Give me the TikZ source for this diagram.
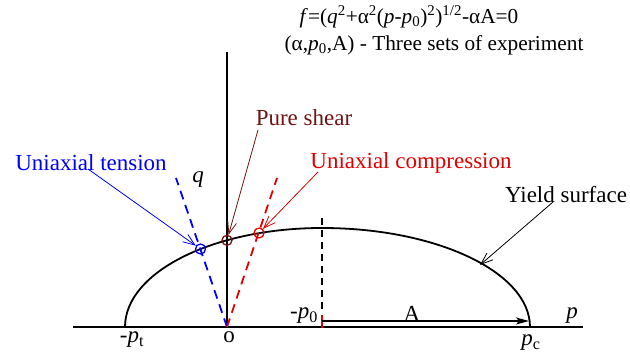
\documentclass[tikz,border=0pt]{standalone}
\usepackage{fontspec}
\setmainfont{Liberation Serif}
\usetikzlibrary{positioning, arrows.meta, calc}
\definecolor{shearred}{RGB}{110,20,20}
\definecolor{comprred}{RGB}{225,0,0}
\tikzset{
  % Axes and yield curve
  axis/.style={line width=1.5pt},
  yieldcurve/.style={line width=1.8pt},
  % Stress paths of the experiments
  loadpath/.style={dashed, line width=1.8pt, dash pattern=on 9pt off 6pt},
  % Experiment points on the curve
  testpoint/.style={draw, circle, line width=1.3pt, minimum size=10pt, inner sep=0pt},
  % Annotation arrows
  pointer/.style={-{Straight Barb[length=12pt, width=9pt]}, line width=0.8pt},
  lbl/.style={font=\fontsize{23}{26}\selectfont, inner sep=1pt},
  titlelbl/.style={font=\fontsize{21.3}{24}\selectfont, inner sep=1pt},
}

\begin{document}
\begin{tikzpicture}[x=1pt, y=1pt]
  \useasboundingbox (0,0) rectangle (630,356);

  %% ── Axes ──
  \coordinate (o)     at (227,29);
  \coordinate (pleft) at (73,29);
  \coordinate (pend)  at (583,29);
  \coordinate (qend)  at (227,304);
  \draw[axis] (pleft) -- (pend);
  \draw[axis] (o) -- (qend);

  %% ── Yield surface ──
  \coordinate (ctr) at (322,29);
  \draw[yieldcurve] (125,29) arc[start angle=180, end angle=90, x radius=197, y radius=99]
                    arc[start angle=90, end angle=0, x radius=208, y radius=99];

  %% ── Experiment paths ──
  \coordinate (tens) at (176,178);
  \coordinate (comp) at (277,178);
  \draw[loadpath, blue] (o) -- (tens);
  \draw[loadpath, comprred] (o) -- (comp);
  \draw[loadpath, black, line width=1.5pt, dash pattern=on 7pt off 5pt] (322,138) -- (322,45);
  \draw[comprred, line width=1.5pt] (322,28) -- (322,41);

  %% ── Points ──
  \node[testpoint, blue]      (ptens) at (200.5,107) {};
  \node[testpoint, shearred]  (pshear) at (227,115.7) {};
  \node[testpoint, comprred]  (pcomp) at (259,123) {};

  %% ── A arrow ──
  \coordinate (astart) at (322,35);
  \coordinate (aend)   at (529,35);
  \draw[line width=1.3pt, -{Stealth[length=13pt, width=7pt, inset=3pt]}] (astart) -- (aend);

  %% ── Labels ──
  \node[lbl] (q)   at (198,176) {\textit{q}};
  \node[lbl] (p)   at (572,40)  {\textit{p}};
  \node[lbl] (p0)  at (304,40)  {-\textit{p}\textsubscript{0}};
  \node[lbl] (A)   at (412,42)  {A};
  \node[lbl] (pc)  at (531,13)  {\textit{p}\textsubscript{c}};
  \node[lbl] (pt)  at (132,16)  {-\textit{p}\textsubscript{t}};
  \node[lbl] (olbl) at (229,19) {o};

  \node[titlelbl] (eqn)  at (409,339) {\textit{f}=(\textit{q}\textsuperscript{2}+α\textsuperscript{2}(\textit{p}-\textit{p}\textsubscript{0})\textsuperscript{2})\textsuperscript{1/2}-αA=0};
  \node[titlelbl] (sets) at (434,311) {(α,\textit{p}\textsubscript{0},A) - Three sets of experiment};

  \node[lbl, blue]     (tenslbl)  at (91,193)  {Uniaxial tension};
  \node[lbl, shearred] (shearlbl) at (304,238) {Pure shear};
  \node[lbl, comprred] (complbl)  at (411,193) {Uniaxial compression};
  \node[lbl]           (yieldlbl) at (566,161) {Yield surface};

  %% ── Pointers ──
  \draw[pointer, blue]     (88,187)  -- (ptens);
  \draw[pointer, shearred] (258,226) -- (pshear);
  \draw[pointer, comprred] (318,184) -- (pcomp);
  \draw[pointer]           (553,154) -- (480,91);

\end{tikzpicture}
\end{document}
